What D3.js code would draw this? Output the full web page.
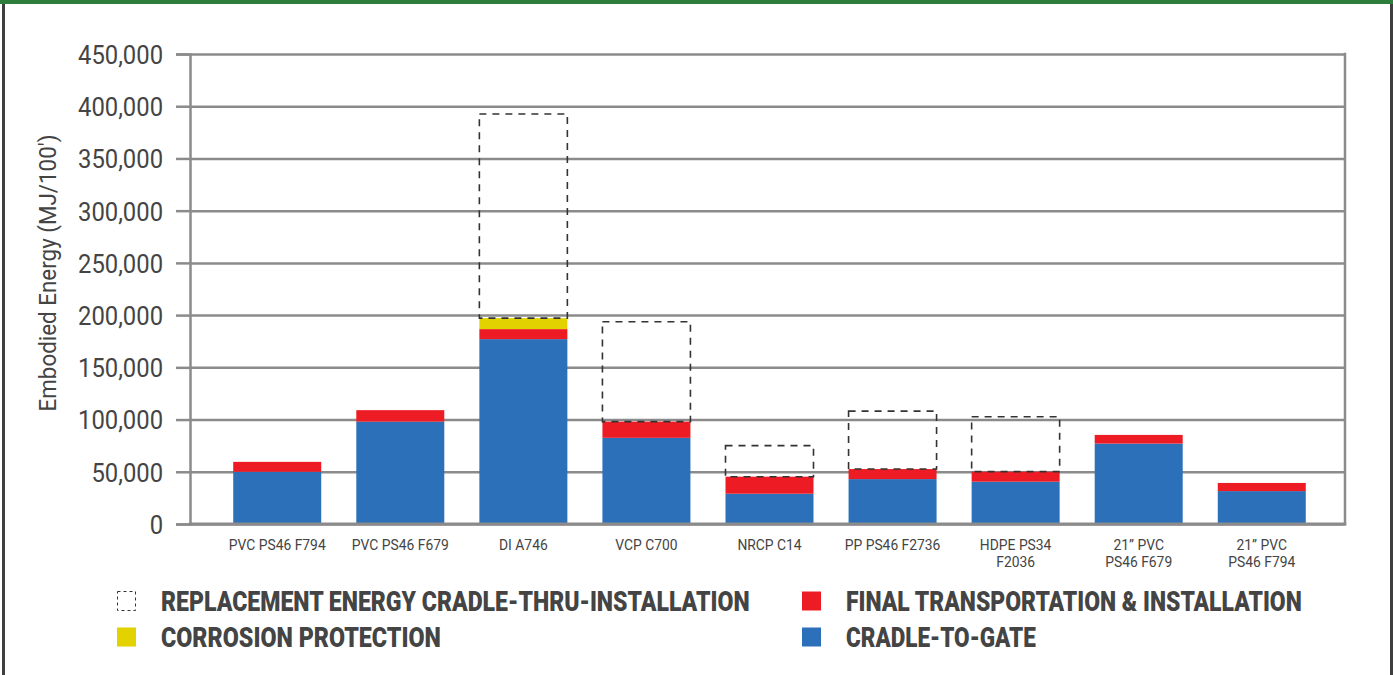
<!DOCTYPE html>
<html>
<head>
<meta charset="utf-8">
<script src="https://cdn.jsdelivr.net/npm/d3@7"></script>
<style>
  html, body { margin: 0; padding: 0; background: #fff; }
  svg { display: block; }
  text { font-family: Roboto, "Liberation Sans", Arial, sans-serif; fill: #444; }
</style>
</head>
<body>
<svg id="chart" width="1393" height="675"></svg>
<script>
// ---- data ----
const categories = [
  "PVC PS46 F794", "PVC PS46 F679", "DI A746", "VCP C700", "NRCP C14",
  "PP PS46 F2736", "HDPE PS34\nF2036", "21\u201D PVC\nPS46 F679", "21\u201D PVC\nPS46 F794"
];
const cradleToGate   = [50000, 98000, 177000, 82500, 29000, 43000, 40500, 77000, 31500];
const finalTransport = [9500, 11000, 9600, 15500, 16300, 9600, 9600, 8300, 7800];
const corrosion      = [0, 0, 10500, 0, 0, 0, 0, 0, 0];
const replacement    = [0, 0, 195400, 95700, 29700, 55500, 52600, 0, 0];
const yTicks = [0, 50000, 100000, 150000, 200000, 250000, 300000, 350000, 400000, 450000];
const yTitle = "Embodied Energy (MJ/100')";
const legendItems = [
  { key: "replacement", label: "REPLACEMENT ENERGY CRADLE-THRU-INSTALLATION" },
  { key: "corrosion",   label: "CORROSION PROTECTION" },
  { key: "final",       label: "FINAL TRANSPORTATION & INSTALLATION" },
  { key: "cradle",      label: "CRADLE-TO-GATE" }
];

// ---- styles ----
const colors = { cradle: "#2b70b8", final: "#ed1c24", corrosion: "#e1d200" };
const gridColor = "#8b8b8b";

const svg = d3.select("#chart");
const W = 1393, H = 675;
const plot = { left: 190, right: 1345, top: 54, bottom: 524 };

// outer frame
svg.append("rect").attr("x", 0).attr("y", 0).attr("width", W).attr("height", 4).attr("fill", "#2e7d3a");
svg.append("rect").attr("x", 2).attr("y", 4).attr("width", 3).attr("height", H - 4).attr("fill", "#3f3f3f");
svg.append("rect").attr("x", 1390).attr("y", 4).attr("width", 3).attr("height", H - 4).attr("fill", "#3f3f3f");

const x = d3.scaleBand().domain(categories).range([plot.left + 2, plot.right + 2])
  .paddingInner(0.285).paddingOuter(0.335);
const y = d3.scaleLinear().domain([0, 450000]).range([plot.bottom, plot.top]);

// gridlines
const grid = svg.append("g").attr("transform", `translate(${plot.left},0)`)
  .call(d3.axisLeft(y).tickValues(yTicks).tickSize(-(plot.right - plot.left)).tickFormat(""));
grid.select(".domain").remove();
grid.selectAll(".tick line").attr("stroke", gridColor).attr("stroke-width", 2.5);

// stacked bars
const stackData = categories.map((c, i) => ({
  cat: c, cradle: cradleToGate[i], final: finalTransport[i], corrosion: corrosion[i]
}));
const stack = d3.stack().keys(["cradle", "final", "corrosion"])(stackData);
svg.append("g").selectAll("g").data(stack).join("g")
  .attr("fill", d => colors[d.key])
  .selectAll("rect").data(d => d).join("rect")
  .attr("x", d => x(d.data.cat))
  .attr("width", x.bandwidth())
  .attr("y", d => y(d[1]))
  .attr("height", d => Math.max(0, y(d[0]) - y(d[1])));

// replacement dashed boxes
const totals = categories.map((c, i) => cradleToGate[i] + finalTransport[i] + corrosion[i]);
svg.append("g").selectAll("rect")
  .data(categories.map((c, i) => ({ cat: c, base: totals[i], rep: replacement[i] })).filter(d => d.rep > 0))
  .join("rect")
  .attr("x", d => x(d.cat))
  .attr("width", x.bandwidth())
  .attr("y", d => y(d.base + d.rep))
  .attr("height", d => y(d.base) - y(d.base + d.rep))
  .attr("fill", "none").attr("stroke", "#333").attr("stroke-width", 1.6)
  .attr("stroke-dasharray", "7,6");

// plot frame right edge
svg.append("line").attr("x1", plot.right).attr("x2", plot.right).attr("y1", plot.top - 1.25).attr("y2", plot.bottom + 1.25)
  .attr("stroke", gridColor).attr("stroke-width", 2.5);

// y axis
const yAxis = svg.append("g").attr("transform", `translate(${plot.left},0)`)
  .call(d3.axisLeft(y).tickValues(yTicks).tickSize(14).tickPadding(13).tickFormat(d3.format(",")));
yAxis.select(".domain").attr("stroke", gridColor).attr("stroke-width", 2.5);
yAxis.selectAll(".tick line").attr("stroke", gridColor).attr("stroke-width", 2.5);
yAxis.selectAll(".tick text").attr("font-size", 26).attr("fill", "#444")
  .style("font-family", "Roboto, 'Liberation Sans', Arial, sans-serif").attr("dy", "0.36em");

// x axis baseline
const xAxis = svg.append("g").attr("transform", `translate(0,${plot.bottom})`)
  .call(d3.axisBottom(x).tickSize(0).tickFormat(""));
xAxis.select(".domain").attr("stroke", gridColor).attr("stroke-width", 3)
  .attr("d", `M${plot.left - 1.25},0H${plot.right + 1.25}`);
xAxis.selectAll(".tick text").remove();

// horizontal condensing via scale transform
function squeeze(node, k) {
  const s = d3.select(node);
  const ox = +s.attr("x") || 0;
  s.attr("x", ox / k).attr("transform", `scale(${k},1)`);
}

// y tick labels: condense to reference width of "450,000"
const yTexts = yAxis.selectAll(".tick text").nodes();
const kY = 85 / yTexts[yTexts.length - 1].getComputedTextLength();
yTexts.forEach(n => squeeze(n, kY));

// x labels (each line a separate text)
const xLines = [];
categories.forEach(c => c.split("\n").forEach((l, i) => xLines.push({ cat: c, line: l, idx: i })));
const xl = svg.append("g").selectAll("g").data(xLines).join("g")
  .attr("transform", d => `translate(${x(d.cat) + x.bandwidth() / 2},${550 + d.idx * 16.5})`);
const xt = xl.append("text")
  .attr("text-anchor", "middle")
  .attr("font-size", 15.5)
  .text(d => d.line);
const kX = 97 / xt.nodes()[0].getComputedTextLength();
xt.attr("transform", `scale(${kX},1)`);

// y title
const yt = svg.append("g").attr("transform", "translate(56,273) rotate(-90)")
  .append("text")
  .attr("text-anchor", "middle")
  .attr("font-size", 23)
  .text(yTitle);
yt.attr("transform", `scale(${277 / yt.node().getComputedTextLength()},1)`);

// legend
const legendPos = {
  replacement: { sx: 117, tx: 161, y: 611, w: 589 },
  corrosion:   { sx: 117, tx: 161, y: 647, w: 280 },
  final:       { sx: 802, tx: 846, y: 611, w: 456 },
  cradle:      { sx: 802, tx: 846, y: 647, w: 190 }
};
const lg = svg.append("g").selectAll("g").data(legendItems).join("g");
lg.append("rect")
  .attr("x", d => legendPos[d.key].sx + (d.key === "replacement" ? 0.5 : 0))
  .attr("y", d => legendPos[d.key].y - 19.5)
  .attr("width", d => d.key === "replacement" ? 18 : 19)
  .attr("height", 19)
  .attr("fill", d => d.key === "replacement" ? "none" : colors[d.key])
  .attr("stroke", d => d.key === "replacement" ? "#333" : "none")
  .attr("stroke-width", 1)
  .attr("stroke-dasharray", d => d.key === "replacement" ? "3,3" : null);
lg.append("g")
  .attr("transform", d => `translate(${legendPos[d.key].tx},${legendPos[d.key].y})`)
  .append("text")
  .attr("font-size", 28)
  .attr("font-weight", 900)
  .attr("fill", "#3d3d3d")
  .text(d => d.label)
  .each(function(d) {
    const k = legendPos[d.key].w / this.getComputedTextLength();
    d3.select(this).attr("transform", `scale(${k},1)`);
  });
</script>
</body>
</html>
